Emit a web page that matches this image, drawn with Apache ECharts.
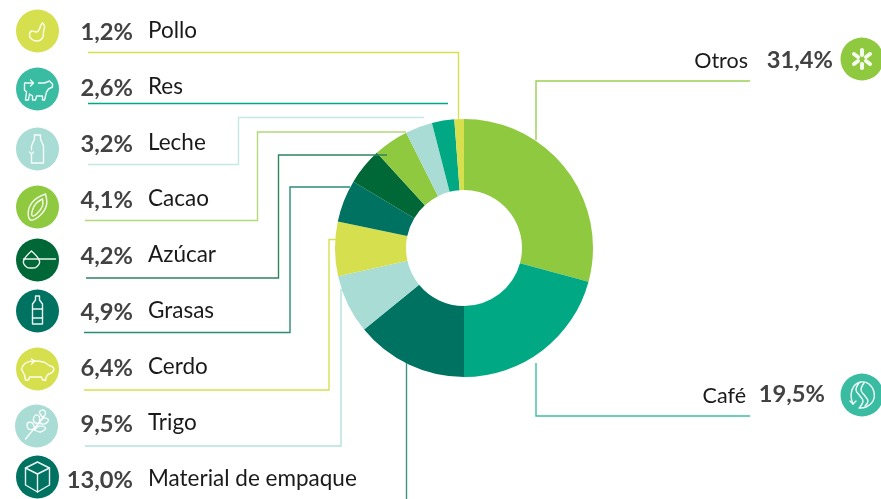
<!DOCTYPE html>
<html>
<head>
<meta charset="utf-8">
<style>
  html, body { margin: 0; padding: 0; background: #fff; }
  #main { width: 881px; height: 499px; }
</style>
</head>
<body>
<div id="main"></div>
<script src="https://cdn.jsdelivr.net/npm/echarts@6/dist/echarts.min.js"></script>
<script>
// orden horario desde las 12
const categories = ['Otros', 'Café', 'Material de empaque', 'Trigo', 'Cerdo', 'Grasas', 'Azúcar', 'Cacao', 'Leche', 'Res', 'Pollo']
// lo que dice cada etiqueta
const pctLabels = ['31,4%', '19,5%', '13,0%', '9,5%', '6,4%', '4,9%', '4,2%', '4,1%', '3,2%', '2,6%', '1,2%']
// lo que mide cada rebanada en el dibujo (no coincide exacto con las etiquetas)
const sliceShares = [29.2, 20.8, 14.1, 7.4, 6.8, 5.3, 4.6, 4.4, 3.4, 2.8, 1.2]
const sliceColors = ['#8fc93f', '#00a984', '#007261', '#a8dcd4', '#d6e04e', '#007261', '#006837', '#8fc93f', '#a8dcd4', '#00a984', '#d6e04e']

const FONT = 'Lato, Carlito, sans-serif'
const NAME_COLOR = '#1a1a1a'
const PCT_COLOR = '#424242'

// filas de texto + icono
const rows = {
  'Pollo': { iy: 31, ny: 31, py: 32, icon: '#d6e04e' },
  'Res': { iy: 89, ny: 87, py: 88, icon: '#3abca3' },
  'Leche': { iy: 149, ny: 143, py: 144, icon: '#a8dcd4' },
  'Cacao': { iy: 207, ny: 199, py: 200, icon: '#8fc93f' },
  'Azúcar': { iy: 260, ny: 255, py: 256, icon: '#006837' },
  'Grasas': { iy: 311, ny: 311, py: 312, icon: '#007261' },
  'Cerdo': { iy: 369, ny: 367, py: 368, icon: '#d6e04e' },
  'Trigo': { iy: 426, ix: 36.5, ny: 423, py: 424, icon: '#a8dcd4' },
  'Material de empaque': { iy: 477, ny: 479, py: 480, icon: '#007261' },
}

// lineas guia
const leaders = [
  { color: '#d6e04e', points: [[88, 52.5], [458.5, 52.5], [458.5, 119]] },
  { color: '#00a984', points: [[88, 103.5], [448, 103.5]] },
  { color: '#c6e8e2', points: [[88, 164.5], [238.5, 164.5], [238.5, 117.5], [424, 117.5]] },
  { color: '#b3d97a', points: [[85, 220.5], [257.5, 220.5], [257.5, 132], [406, 132]] },
  { color: '#2f8560', points: [[86, 278], [278.5, 278], [278.5, 155], [387, 155]] },
  { color: '#2b8a78', points: [[84, 332.5], [290, 332.5], [290, 187], [350, 187]] },
  { color: '#d6e04e', points: [[84, 390], [329, 390], [329, 239.5], [337, 239.5]] },
  { color: '#b5e2db', points: [[85, 446], [341, 446], [341, 289]] },
  { color: '#3f9080', points: [[406.5, 363], [406.5, 499]] },
  { color: '#3cbfa3', points: [[536, 363], [536, 416], [750, 416]] },
  { color: '#9ccf52', points: [[536, 140], [536, 81], [750, 81]] },
]

// dibujos de los iconos, en coordenadas locales al centro del circulo
const glyphs = {
  'Pollo': [{ s: 1, p: [[5, -8], [3, -5], [2, -2], [-1, 1], [-6, 0], [-8, 4], [-6, 8], [0, 10], [5, 7], [6, 1], [7, -5], [5, -8]] }],
  'Res': [
    { p: [[-13, -5], [-13, 1], [-11, 3], [-12, 11], [-9, 11], [-8, 5], [-5, 7], [-5, 11], [-2, 11], [-1, 7], [5, 7], [5, 11], [7, 11], [9, 3], [11, 0], [15, -2], [15, -5], [12, -8], [7, -6], [1, -6]] },
    { p: [[-13, -6], [-5, -6]] },
    { p: [[-7, -9], [-4, -6], [-7, -3]] },
  ],
  'Leche': [
    { p: [[-3, -14], [3, -14], [3, -10], [6, -3], [6, 14], [-6, 14], [-6, 5]] },
    { p: [[-6, 1], [-6, -3], [-3, -10], [-3, -14]] },
    { p: [[-8, 3], [-6, 5], [-4, 3]] },
  ],
  'Cacao': [
    { s: 1, p: [[8, -13], [9, -2], [3, 8], [-7, 13], [-9, 3], [-3, -7], [8, -13]] },
    { s: 1, p: [[5, -8], [5, -1], [0, 6], [-5, 9], [-5, 3], [-1, -4], [5, -8]] },
  ],
  'Azúcar': [
    { s: 1, p: [[-6, -9], [-14, 1], [-11, 7], [-6, 8], [-1, 7], [2, 1], [-6, -9]] },
    { p: [[-14, -1], [18, -1]] },
  ],
  'Grasas': [
    { p: [[-2, -15], [2, -15], [2, -11], [5, -7], [5, 13], [-5, 13], [-5, -7], [-2, -11], [-2, -15]] },
    { p: [[-5, -2], [5, -2]] },
    { p: [[-5, 7], [5, 7]] },
  ],
  'Cerdo': [
    { s: 1, p: [[-16, 0], [-12, -6], [-4, -8], [6, -7], [11, -4], [16, -1], [15, 3], [10, 6], [8, 11]] },
    { p: [[8, 11], [5, 11], [4, 8], [-8, 8], [-9, 11], [-12, 11], [-13, 6], [-16, 0]] },
    { p: [[-6, -10], [-3, -8], [-6, -5]] },
  ],
  'Trigo': [
    { p: [[-11, 13], [8, -10]] },
    { s: 1, p: [[-2, 3], [-8, 3], [-9, -3], [-4, -3], [-2, 3]] },
    { s: 1, p: [[2, -2], [-3, -5], [-1, -11], [3, -9], [2, -2]] },
    { s: 1, p: [[-2, 4], [4, 6], [9, 2], [3, 0], [-2, 4]] },
    { s: 1, p: [[3, -3], [8, -2], [12, -6], [7, -8], [3, -3]] },
    { s: 1, p: [[6, -9], [3, -14], [7, -16], [9, -12], [6, -9]] },
  ],
  'Material de empaque': [
    { p: [[0, -15], [-12, -9], [-12, 8], [0, 15], [12, 8], [12, -9], [0, -15]] },
    { p: [[-12, -9], [0, -3], [12, -9]] },
    { p: [[0, -3], [0, 15]] },
  ],
  'Otros': [
    { w: 4, p: [[0, -9], [0, -4]] },
    { w: 4, p: [[-8, -5], [-4, -2]] },
    { w: 4, p: [[8, -5], [4, -2]] },
    { w: 4, p: [[-8, 5], [-4, 2]] },
    { w: 4, p: [[8, 5], [4, 2]] },
    { w: 4, p: [[0, 9], [0, 5]] },
  ],
  'Café': [
    { s: 1, p: [[-9, 9], [-11, 0], [-8, -9], [-1, -13], [7, -11], [12, -3], [11, 6], [4, 12], [-3, 13]] },
    { s: 1, p: [[-3, -12], [-6, -5], [-2, 1], [1, 6], [-2, 12]] },
    { s: 1, p: [[2, -12], [-1, -5], [3, 1], [6, 6], [3, 11]] },
    { p: [[-12, 6], [-9, 9], [-6, 6]] },
  ],
}

const drawIcon = (name, cx, cy, fill) => ({
  type: 'group',
  x: cx,
  y: cy,
  z: 20,
  children: [
    { type: 'circle', shape: { r: 21.5 }, style: { fill } },
    ...glyphs[name].map((g) => ({
      type: 'polyline',
      shape: { points: g.p, smooth: g.s ? 0.4 : 0 },
      style: { fill: null, stroke: '#fff', lineWidth: g.w || 1.4, lineCap: 'round', lineJoin: 'round', opacity: 0.92 },
    })),
  ],
})

const drawText = (text, x, y, align, font) => ({
  type: 'text',
  x,
  y,
  z: 30,
  style: {
    text,
    align,
    verticalAlign: 'middle',
    fill: font.startsWith('bold') ? PCT_COLOR : NAME_COLOR,
    font: `${font} ${FONT}`,
  },
})

const PCT_FONT = 'bold 23.7px'
const NAME_FONT = '22.5px'
const SIDE_FONT = '21.5px'

const elements = []
leaders.forEach((l) => {
  elements.push({
    type: 'polyline',
    z: 10,
    shape: { points: l.points },
    style: { fill: null, stroke: l.color, lineWidth: 1.4 },
  })
})
categories.forEach((name, i) => {
  const row = rows[name]
  if (!row) return
  elements.push(drawIcon(name, row.ix || 37.5, row.iy, row.icon))
  elements.push(drawText(pctLabels[i], 133, row.py, 'right', PCT_FONT))
  elements.push(drawText(name, 148, row.ny, 'left', NAME_FONT))
})
// los dos de la derecha van al reves
elements.push(drawText('Otros', 748, 61, 'right', SIDE_FONT))
elements.push(drawText(pctLabels[0], 833, 60, 'right', PCT_FONT))
elements.push(drawIcon('Otros', 862, 59, '#8fc93f'))
elements.push(drawText('Café', 746, 396, 'right', SIDE_FONT))
elements.push(drawText(pctLabels[1], 825, 394, 'right', PCT_FONT))
elements.push(drawIcon('Café', 862, 395, '#3abca3'))

const myChart = echarts.init(document.getElementById('main'), null, { renderer: 'canvas' })
myChart.setOption({
  animation: false,
  backgroundColor: '#fff',
  series: [
    {
      type: 'pie',
      center: [464, 248],
      radius: [58, 129],
      startAngle: 90,
      silent: true,
      label: { show: false },
      labelLine: { show: false },
      data: categories.map((name, i) => ({
        name,
        value: sliceShares[i],
        itemStyle: { color: sliceColors[i] },
      })),
    },
  ],
  graphic: { elements },
})
</script>
</body>
</html>
